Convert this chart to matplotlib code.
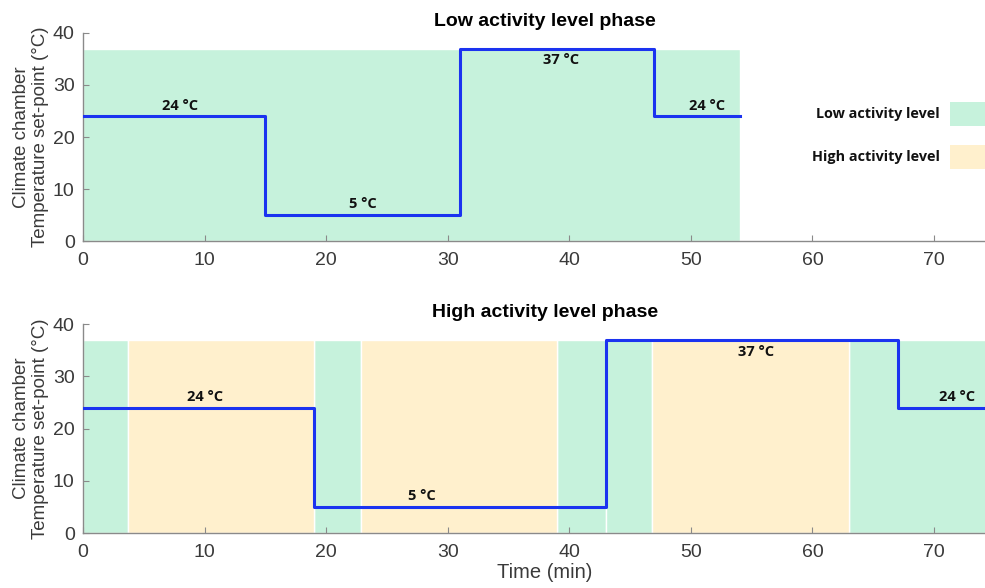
import numpy as np
import matplotlib
matplotlib.use('Agg')
import matplotlib.pyplot as plt
from matplotlib.patches import Rectangle

# step profiles (min, degC)
low_times = [0, 15, 31, 47, 54]
low_temps = [24, 5, 37, 24, 24]
high_times = [0, 19, 43, 67, 76]
high_temps = [24, 5, 37, 24, 24]

# activity spans (start, end)
low_phase_green = [(0, 54)]
high_phase_green = [(0, 3.7), (19, 22.9), (39, 43), (43, 46.8), (63, 76)]
high_phase_orange = [(3.7, 19), (22.9, 39), (46.8, 63)]
span_top = 37

# label positions (x, y, text, va)
low_labels = [(8, 24, '24 °C', 'bottom'), (23, 5, '5 °C', 'bottom'),
              (39.3, 37, '37 °C', 'top'), (51.3, 24, '24 °C', 'bottom')]
high_labels = [(10, 24, '24 °C', 'bottom'), (27.9, 5, '5 °C', 'bottom'),
               (55.4, 37, '37 °C', 'top'), (71.9, 24, '24 °C', 'bottom')]

legend_names = ['Low activity level', 'High activity level']

GREEN = '#c6f2dc'
ORANGE = '#fff0cd'
BLUE = '#1b33f0'
GRAY = '#8a8a8a'
TXT = '#3a3a3a'

plt.rcParams['font.family'] = ['Liberation Sans', 'DejaVu Sans']
LABEL_FONT = ['Open Sans', 'DejaVu Sans']

fig = plt.figure(figsize=(9.85, 5.88), dpi=100)
# axes run a bit past the right edge of the figure (cropped original)
ax1 = fig.add_axes([0.0843, 0.590, 0.938, 0.354])
ax2 = fig.add_axes([0.0843, 0.0935, 0.938, 0.355])


def style_axis(ax, title):
    ax.set_xlim(0, 76)
    ax.set_ylim(0, 40)
    ax.set_xticks([0, 10, 20, 30, 40, 50, 60, 70])
    ax.set_yticks([0, 10, 20, 30, 40])
    for s in ['top', 'right']:
        ax.spines[s].set_visible(False)
    for s in ['left', 'bottom']:
        ax.spines[s].set_color(GRAY)
        ax.spines[s].set_linewidth(1.0)
    ax.tick_params(direction='in', length=4, color=GRAY, labelsize=14,
                   labelcolor=TXT)
    ax.tick_params(axis='x', pad=8)
    ax.tick_params(axis='y', pad=6)
    ax.set_ylabel('Climate chamber\nTemperature set-point (°C)', fontsize=13.5,
                  color=TXT, labelpad=3, linespacing=1.15)
    ax.set_title(title, fontsize=14, fontweight='bold', pad=5)


def draw_spans(ax, spans, color):
    for a, b in spans:
        ax.fill_between([a, b], 0, span_top, color=color, edgecolor='white',
                        linewidth=1.0, zorder=0.5)


def draw_labels(ax, labels):
    for x, y, txt, va in labels:
        off = 0.7 if va == 'bottom' else -0.9
        ax.text(x, y + off, txt, ha='center', va=va, fontsize=10.5,
                fontweight='bold', family=LABEL_FONT, color='#111111')


# low activity phase
draw_spans(ax1, low_phase_green, GREEN)
ax1.step(low_times, low_temps, where='post', color=BLUE, linewidth=2.2, zorder=3)
draw_labels(ax1, low_labels)
style_axis(ax1, 'Low activity level phase')

# legend, drawn by hand at the right of the top panel
for name, color, yc in zip(legend_names, [GREEN, ORANGE], [0.806, 0.733]):
    fig.patches.append(Rectangle((0.9645, yc - 0.02), 0.04, 0.04, facecolor=color,
                                 edgecolor='none', transform=fig.transFigure))
    fig.text(0.954, yc, name, ha='right', va='center', fontsize=10.4,
             fontweight='bold', family=LABEL_FONT, color='#111111')

# high activity phase
draw_spans(ax2, high_phase_green, GREEN)
draw_spans(ax2, high_phase_orange, ORANGE)
ax2.step(high_times, high_temps, where='post', color=BLUE, linewidth=2.2, zorder=3)
draw_labels(ax2, high_labels)
style_axis(ax2, 'High activity level phase')
ax2.set_xlabel('Time (min)', fontsize=14.5, color=TXT, labelpad=1)

fig.savefig('out.png', dpi=100)
